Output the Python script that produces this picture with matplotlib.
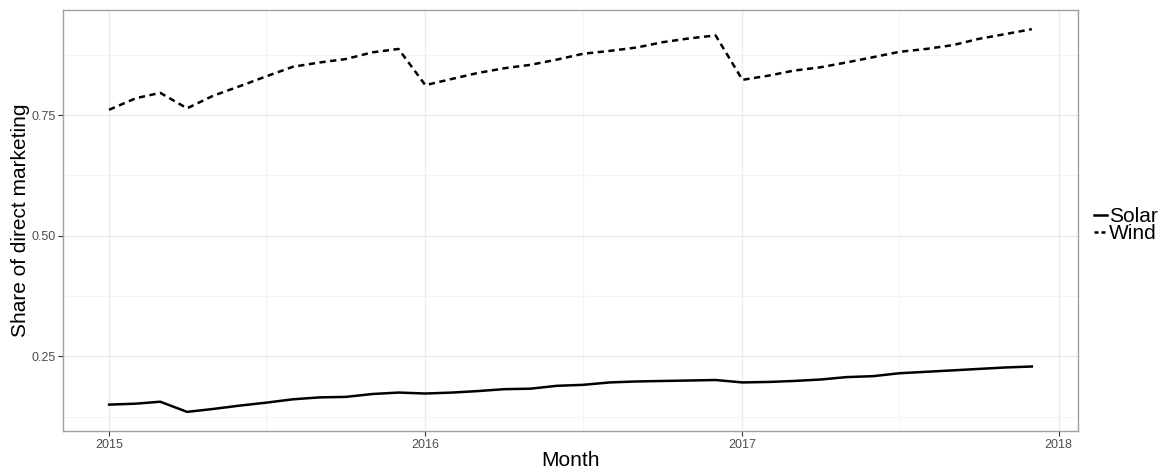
import numpy as np
import pandas as pd
import matplotlib
matplotlib.use("Agg")
import matplotlib.pyplot as plt
import matplotlib.dates as mdates

plt.rcParams['font.family'] = ['Liberation Sans', 'DejaVu Sans']

months = pd.date_range("2015-01-01", periods=36, freq="MS")

wind = [0.761, 0.785, 0.796, 0.764, 0.790, 0.810, 0.830, 0.850, 0.859, 0.866, 0.880, 0.887,
        0.812, 0.825, 0.837, 0.847, 0.854, 0.865, 0.877, 0.883, 0.890, 0.901, 0.909, 0.915,
        0.823, 0.832, 0.842, 0.849, 0.859, 0.870, 0.881, 0.887, 0.895, 0.908, 0.918, 0.928]
solar = [0.150, 0.152, 0.156, 0.135, 0.141, 0.148, 0.154, 0.161, 0.165, 0.166, 0.172, 0.175,
         0.173, 0.175, 0.178, 0.182, 0.183, 0.189, 0.191, 0.196, 0.198, 0.199, 0.200, 0.201,
         0.196, 0.197, 0.199, 0.202, 0.207, 0.209, 0.215, 0.218, 0.221, 0.224, 0.227, 0.229]

yticks = [0.25, 0.50, 0.75]
ytick_labels = ["0.25", "0.50", "0.75"]
years = [2015, 2016, 2017, 2018]

fig = plt.figure(figsize=(11.64, 4.73), dpi=100)
ax = fig.add_axes([0.0541, 0.0888, 0.872, 0.890])

ax.plot(months, solar, color="black", lw=1.8, label="Solar")
ax.plot(months, wind, color="black", lw=1.8, linestyle=(0, (2.5, 1.8)), label="Wind")

# limits with ggplot-like 5% expansion
x0 = mdates.date2num(months[0])
x1 = mdates.date2num(months[-1])
pad = (x1 - x0) * 0.05
ax.set_xlim(x0 - pad, x1 + pad)
lo, hi = min(solar + wind), max(solar + wind)
ypad = (hi - lo) * 0.05
ax.set_ylim(lo - ypad, hi + ypad)

ax.set_xticks([mdates.date2num(pd.Timestamp(f"{y}-01-01")) for y in years])
ax.set_xticklabels([str(y) for y in years])
ax.set_xticks([mdates.date2num(pd.Timestamp(f"{y}-07-01")) for y in years[:-1]], minor=True)
ax.set_yticks(yticks)
ax.set_yticklabels(ytick_labels)
ax.set_yticks([0.125, 0.375, 0.625, 0.875], minor=True)

ax.grid(which="major", color="#EBEBEB", lw=1.0)
ax.grid(which="minor", color="#F4F4F4", lw=0.8)
ax.set_axisbelow(True)
ax.tick_params(which="major", length=3.5, width=0.8, color="#333333",
               labelcolor="#4D4D4D", labelsize=9, pad=2)
ax.tick_params(which="minor", length=0)
for s in ax.spines.values():
    s.set_color("#A0A0A0")
    s.set_linewidth(1.0)

ax.set_xlabel("Month", fontsize=15, labelpad=0)
ax.set_ylabel("Share of direct marketing", fontsize=15, labelpad=1)

leg = ax.legend(loc="center left", bbox_to_anchor=(1.008, 0.489), frameon=False, fontsize=15,
                handlelength=0.6, handletextpad=0.1, labelspacing=-0.1, borderaxespad=0)
leg.get_lines()[1].set_linestyle((0, (1.6, 1.2)))

fig.savefig("out.png", dpi=100)
